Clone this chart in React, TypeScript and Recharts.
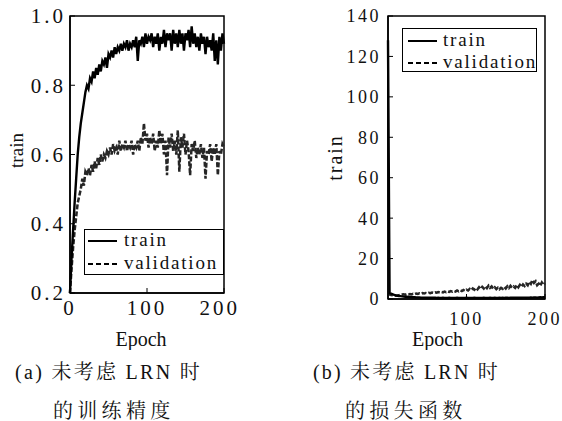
import React from "react";
import { Label, Legend, Line, LineChart, ReferenceArea, XAxis, YAxis } from "recharts";

// epochs 0, 2, 4, ... 200
const trainAcc = [
  0.2, 0.3, 0.38, 0.46, 0.53, 0.6, 0.65, 0.69, 0.72, 0.75,
  0.78, 0.8, 0.79, 0.82, 0.81, 0.84, 0.82, 0.85, 0.83, 0.86,
  0.84, 0.87, 0.86, 0.88, 0.85, 0.89, 0.88, 0.9, 0.88, 0.91,
  0.89, 0.91, 0.9, 0.92, 0.9, 0.92, 0.91, 0.93, 0.9, 0.92,
  0.91, 0.93, 0.91, 0.94, 0.87, 0.93, 0.92, 0.94, 0.91, 0.95,
  0.92, 0.94, 0.93, 0.95, 0.91, 0.94, 0.92, 0.95, 0.9, 0.94,
  0.92, 0.96, 0.91, 0.95, 0.93, 0.95, 0.9, 0.96, 0.92, 0.95,
  0.91, 0.96, 0.92, 0.95, 0.9, 0.95, 0.93, 0.96, 0.91, 0.97,
  0.92, 0.95, 0.91, 0.94, 0.9, 0.95, 0.92, 0.94, 0.89, 0.94,
  0.91, 0.93, 0.9, 0.95, 0.87, 0.93, 0.86, 0.94, 0.9, 0.95,
  0.92,
];
const valAcc = [
  0.2, 0.27, 0.33, 0.38, 0.42, 0.46, 0.48, 0.5, 0.53, 0.51,
  0.55, 0.54, 0.56, 0.54, 0.57, 0.55, 0.58, 0.56, 0.59, 0.57,
  0.6, 0.58, 0.6, 0.59, 0.61, 0.6, 0.62, 0.6, 0.63, 0.61,
  0.62, 0.6, 0.64, 0.61, 0.63, 0.62, 0.64, 0.61, 0.63, 0.62,
  0.64, 0.6, 0.63, 0.62, 0.64, 0.61, 0.65, 0.63, 0.69, 0.64,
  0.66, 0.62, 0.65, 0.63, 0.66, 0.61, 0.64, 0.62, 0.67, 0.63,
  0.66, 0.6, 0.64, 0.54, 0.65, 0.62, 0.66, 0.61, 0.64, 0.6,
  0.67, 0.55, 0.65, 0.62, 0.66, 0.6, 0.64, 0.61, 0.54, 0.63,
  0.61, 0.64, 0.59, 0.62, 0.6, 0.63, 0.59, 0.62, 0.53, 0.61,
  0.6, 0.63, 0.58, 0.62, 0.6, 0.63, 0.54, 0.61, 0.6, 0.63,
  0.62,
];
const trainLoss = [
  128, 3.0, 2.6, 2.3, 2.0, 1.8, 1.6, 1.5, 1.4, 1.3,
  1.2, 1.1, 1.1, 1.0, 1.0, 0.9, 0.9, 0.9, 0.8, 0.8,
  0.8, 0.7, 0.7, 0.7, 0.7, 0.6, 0.6, 0.6, 0.6, 0.6,
  0.6, 0.5, 0.6, 0.5, 0.5, 0.6, 0.5, 0.5, 0.5, 0.6,
  0.5, 0.5, 0.5, 0.5, 0.6, 0.5, 0.5, 0.5, 0.5, 0.5,
  0.6, 0.5, 0.5, 0.5, 0.5, 0.6, 0.5, 0.5, 0.5, 0.5,
  0.5, 0.6, 0.5, 0.5, 0.5, 0.6, 0.5, 0.5, 0.6, 0.5,
  0.5, 0.6, 0.5, 0.6, 0.5, 0.6, 0.6, 0.5, 0.6, 0.6,
  0.6, 0.7, 0.6, 0.6, 0.7, 0.6, 0.7, 0.7, 0.6, 0.7,
  0.7, 0.8, 0.7, 0.8, 0.8, 0.7, 0.8, 0.9, 0.8, 0.9,
  0.9,
];
const valLoss = [
  2.5, 2.2, 2.0, 1.8, 1.7, 1.6, 1.7, 1.9, 2.0, 2.2,
  2.3, 2.1, 2.4, 2.2, 2.5, 2.3, 2.6, 2.4, 2.7, 2.5,
  2.8, 2.6, 2.9, 2.7, 3.0, 2.8, 3.1, 2.9, 3.2, 3.0,
  3.3, 3.1, 3.4, 3.2, 3.5, 3.3, 3.7, 3.4, 3.8, 3.5,
  3.9, 3.6, 4.0, 3.7, 4.2, 3.8, 4.3, 3.9, 4.5, 4.0,
  4.6, 4.2, 5.0, 4.4, 5.2, 4.6, 5.5, 4.8, 5.8, 5.0,
  6.0, 5.2, 6.3, 5.4, 6.6, 5.5, 6.2, 5.1, 5.8, 4.9,
  5.6, 4.8, 5.5, 5.0, 6.0, 5.2, 6.3, 5.4, 6.5, 5.6,
  6.2, 5.5, 6.8, 5.8, 7.0, 6.0, 7.2, 6.4, 7.6, 6.8,
  8.5, 7.5, 9.4, 8.0, 8.8, 6.8, 7.6, 6.6, 8.2, 7.0,
  7.8,
];
const accTicks = [0.2, 0.4, 0.6, 0.8, 1.0];
const lossTicks = [0, 20, 40, 60, 80, 100, 120, 140];
const seriesNames = ["train", "validation"];

const epochs = trainAcc.map((_, i) => i * 2);
const accData = epochs.map((e, i) => ({ epoch: e, train: trainAcc[i], validation: valAcc[i] }));
const lossData = epochs.map((e, i) => ({ epoch: e, train: trainLoss[i], validation: valLoss[i] }));

const serif = "Liberation Serif, serif";
const cjk = "Liberation Serif, Noto Serif CJK SC, serif";

function LegendBox({ width, height, lineX, textX, row1, row2 }: any) {
  return (
    <div
      style={{
        position: "relative",
        width,
        height,
        border: "1.5px solid #000",
        boxSizing: "border-box",
        background: "#fff",
        fontFamily: serif,
        fontSize: 19,
        letterSpacing: 1.8,
        color: "#111",
      }}
    >
      {seriesNames.map((name, i) => {
        const cy = i === 0 ? row1 : row2;
        return (
          <div key={name}>
            <svg style={{ position: "absolute", left: lineX, top: cy - 3 }} width={30} height={6}>
              <line
                x1={0}
                x2={29}
                y1={3}
                y2={3}
                stroke="#000"
                strokeWidth={2}
                strokeDasharray={i === 0 ? undefined : "5 3"}
              />
            </svg>
            <span style={{ position: "absolute", left: textX, top: cy - 12, lineHeight: "22px" }}>{name}</span>
          </div>
        );
      })}
    </div>
  );
}

export default function App() {
  const tickStyleA = { fontFamily: serif, fontSize: 21, fill: "#111", letterSpacing: 3 };
  const tickStyleB = { fontFamily: serif, fontSize: 18, fill: "#111", letterSpacing: 2.5 };
  const axisLine = { stroke: "#000", strokeWidth: 1.5 };
  const labelStyle = { fontFamily: serif, fontSize: 20, fill: "#111", fontWeight: 400 };
  const captionStyle: React.CSSProperties = {
    position: "absolute",
    fontFamily: cjk,
    fontSize: 20,
    lineHeight: "24px",
    whiteSpace: "pre",
    color: "#111",
  };
  return (
    <div style={{ position: "relative", width: 562, height: 421, background: "#fff", fontFamily: serif }}>
      <style>{"body{margin:0} svg text{font-family:'Liberation Serif',serif;font-weight:400}"}</style>

      <div style={{ position: "absolute", left: 0, top: 0 }}>
        <LineChart width={240} height={350} data={accData} margin={{ top: 16, right: 16, left: 0, bottom: 27 }}>
          <ReferenceArea x1={0} x2={200} y1={0.2} y2={1} fill="none" stroke="#000" strokeWidth={1.5} />
          <XAxis
            type="number"
            dataKey="epoch"
            domain={[0, 200]}
            ticks={[0, 100, 200]}
            height={30}
            tickSize={-5}
            tickMargin={12}
            tick={tickStyleA}
            axisLine={axisLine}
            tickLine={{ stroke: "#000" }}
          >
            <Label value="Epoch" position="center" dx={-6} dy={31} style={labelStyle} />
          </XAxis>
          <YAxis
            type="number"
            domain={[0.2, 1]}
            ticks={accTicks}
            width={70}
            tickSize={-5}
            tickMargin={9}
            tick={tickStyleA}
            tickFormatter={(v: number) => v.toFixed(1)}
            axisLine={axisLine}
            tickLine={{ stroke: "#000" }}
          >
            <Label value="train" position="center" angle={-90} dx={-19} dy={-4} style={{ ...labelStyle, fontSize: 19 }} />
          </YAxis>
          <Line dataKey="validation" stroke="#262626" strokeWidth={2.5} strokeDasharray="5 2" dot={false} isAnimationActive={false} />
          <Line dataKey="train" stroke="#000" strokeWidth={2.4} dot={false} isAnimationActive={false} />
          <Legend
            layout="vertical"
            align="center"
            verticalAlign="middle"
            wrapperStyle={{ left: 84, top: 229, width: 140, height: 46 }}
            content={() => <LegendBox width={140} height={46} lineX={3} textX={39} row1={11} row2={34} />}
          />
        </LineChart>
      </div>

      <div style={{ position: "absolute", left: 300, top: 0 }}>
        <LineChart width={262} height={350} data={lossData} margin={{ top: 16, right: 17, left: 0, bottom: 21 }}>
          <ReferenceArea x1={0} x2={200} y1={0} y2={140} fill="none" stroke="#000" strokeWidth={1.5} />
          <XAxis
            type="number"
            dataKey="epoch"
            domain={[0, 200]}
            ticks={[100, 200]}
            height={30}
            tickSize={-5}
            tickMargin={18}
            tick={tickStyleB}
            axisLine={axisLine}
            tickLine={{ stroke: "#000" }}
          >
            <Label value="Epoch" position="center" dx={-29} dy={25} style={labelStyle} />
          </XAxis>
          <YAxis
            type="number"
            domain={[0, 140]}
            ticks={lossTicks}
            width={88}
            tickSize={-5}
            tickMargin={12}
            tick={tickStyleB}
            axisLine={axisLine}
            tickLine={{ stroke: "#000" }}
          >
            <Label value="train" position="center" angle={-90} dx={-9} dy={0} style={{ ...labelStyle, letterSpacing: 2 }} />
          </YAxis>
          <Line dataKey="validation" stroke="#262626" strokeWidth={2.5} strokeDasharray="5 2" dot={false} isAnimationActive={false} />
          <Line dataKey="train" stroke="#000" strokeWidth={2.4} dot={false} isAnimationActive={false} />
          <Legend
            layout="vertical"
            align="center"
            verticalAlign="middle"
            wrapperStyle={{ left: 102, top: 28, width: 135, height: 44 }}
            content={() => <LegendBox width={135} height={44} lineX={5} textX={40} row1={12} row2={34} />}
          />
        </LineChart>
      </div>

      <div style={{ ...captionStyle, left: 15, top: 360, letterSpacing: 2.3 }}>(a) 未考虑 LRN 时</div>
      <div style={{ ...captionStyle, left: 53, top: 399, letterSpacing: 4.3 }}>的训练精度</div>
      <div style={{ ...captionStyle, left: 313, top: 360, letterSpacing: 2.2 }}>(b) 未考虑 LRN 时</div>
      <div style={{ ...captionStyle, left: 345, top: 399, letterSpacing: 4.3 }}>的损失函数</div>
    </div>
  );
}
